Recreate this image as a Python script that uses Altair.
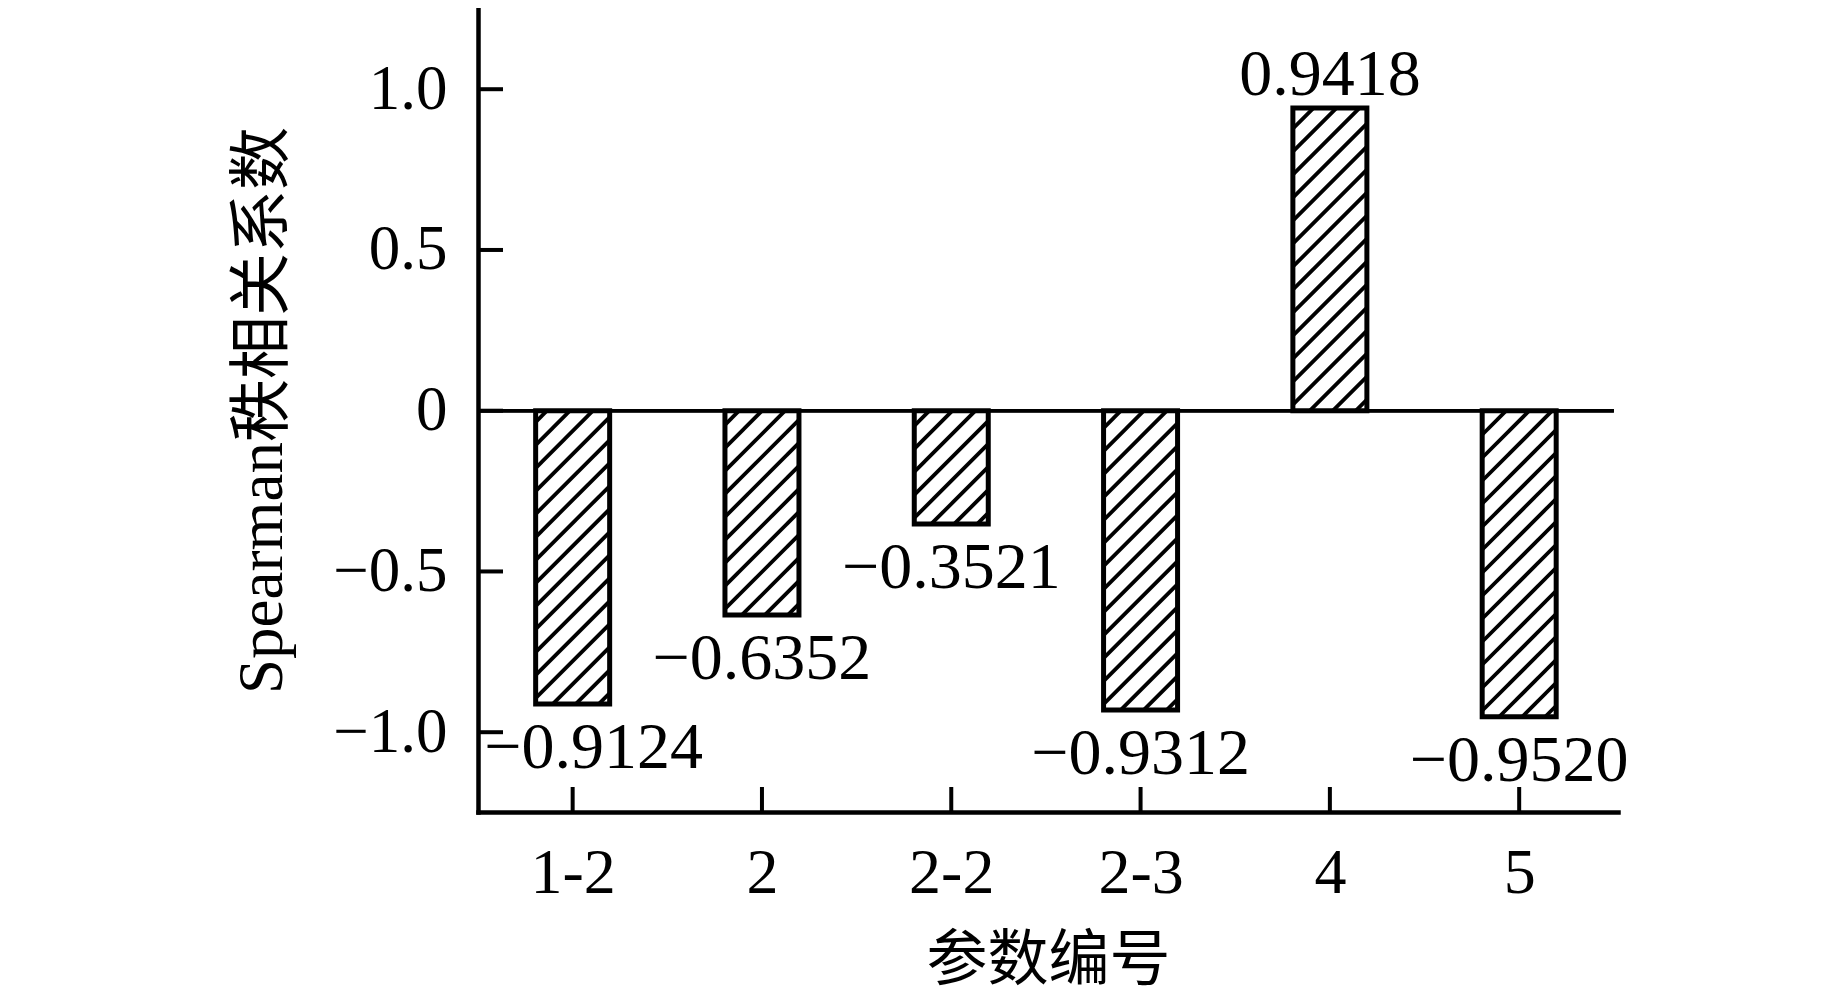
import altair as alt
import pandas as pd

# ---- data ----
categories = ["1-2", "2", "2-2", "2-3", "4", "5"]
values = [-0.9124, -0.6352, -0.3521, -0.9312, 0.9418, -0.9520]
y_ticks = [-1.0, -0.5, 0.0, 0.5, 1.0]

df = pd.DataFrame({"idx": list(range(len(categories))), "cat": categories, "value": values})
yt = pd.DataFrame({"v": y_ticks})

# ---- layout constants ----
W, H = 1140, 804
XMIN, XMAX = -0.5, 5.522
YMIN, YMAX = -1.2482, 1.2526
PXX = W / (XMAX - XMIN)
PXY = H / (YMAX - YMIN)
BAR_PX = 74
HW = BAR_PX / 2 / PXX
HATCH = 23  # vertical spacing of hatch lines, px

SERIF = "Liberation Serif, Times New Roman, Noto Sans CJK SC"

xscale = alt.Scale(domain=[XMIN, XMAX], nice=False, zero=False)
yscale = alt.Scale(domain=[YMIN, YMAX], nice=False, zero=False)

label_arr = "[" + ",".join("'%s'" % c for c in categories) + "]"

xaxis = alt.Axis(
    values=list(range(len(categories))),
    labelExpr=f"{label_arr}[datum.value]",
    ticks=False, tickSize=0, grid=False,
    domainColor="black", domainWidth=4.5, domainCap="square",
    labelFont=SERIF, labelFontSize=64, labelColor="black", labelPadding=29,
    title="参数编号", titleFont=SERIF, titleFontSize=61, titleFontWeight="normal",
    titleColor="black", titlePadding=26,
)
yaxis = alt.Axis(
    values=y_ticks,
    labelExpr="datum.value == 0 ? '0' : format(datum.value, '.1f')",
    ticks=False, tickSize=0, grid=False,
    domainColor="black", domainWidth=4.5, domainCap="square",
    labelFont=SERIF, labelFontSize=63, labelColor="black", labelPadding=31,
    title="Spearman秩相关系数", titleFont=SERIF, titleFontSize=63, titleFontWeight="normal",
    titleColor="black", titlePadding=38,
)

def X(field):
    return alt.X(field, scale=xscale, axis=xaxis, title="参数编号")

def Y(field):
    return alt.Y(field, scale=yscale, axis=yaxis, title="Spearman秩相关系数")

base = alt.Chart(df).transform_calculate(
    x0=f"datum.idx - {HW}", x1=f"datum.idx + {HW}"
)

bar_fill = base.mark_rect(fill="white", strokeWidth=0).encode(
    x=X("x0:Q"), x2="x1:Q", y=Y("value:Q"), y2=alt.datum(0),
)

hatch = alt.Chart(df).transform_calculate(
    k="sequence(-5, 40)"
).transform_flatten(["k"]).transform_calculate(
    h=f"abs(datum.value) * {PXY}",
    c=f"datum.k * {HATCH} + 6",
).transform_calculate(
    u0="max(0, -datum.c)",
    u1=f"min({BAR_PX}, datum.h - datum.c)",
).transform_filter("datum.u1 - datum.u0 > 1").transform_calculate(
    xa=f"datum.idx - {HW} + datum.u0 / {PXX}",
    xb=f"datum.idx - {HW} + datum.u1 / {PXX}",
    ya=f"min(0, datum.value) + (datum.u0 + datum.c) / {PXY}",
    yb=f"min(0, datum.value) + (datum.u1 + datum.c) / {PXY}",
).mark_rule(color="black", strokeWidth=3.8, strokeCap="butt").encode(
    x=X("xa:Q"), x2="xb:Q", y=Y("ya:Q"), y2="yb:Q",
)

bar_outline = base.mark_rect(fill="white", fillOpacity=0, stroke="black", strokeWidth=5).encode(
    x=X("x0:Q"), x2="x1:Q", y=Y("value:Q"), y2=alt.datum(0),
)

zero_line = alt.Chart(df).mark_rule(color="black", strokeWidth=3).encode(
    x=alt.datum(-0.5, scale=xscale, axis=xaxis, title="参数编号"),
    x2=alt.datum(5.5),
    y=alt.datum(0, scale=yscale, axis=yaxis, title="Spearman秩相关系数"),
)

ytick_marks = alt.Chart(yt).mark_rule(color="black", strokeWidth=4).encode(
    y=Y("v:Q"),
    x=alt.value(0),
    x2=alt.value(25),
)

xtick_marks = alt.Chart(df).mark_rule(color="black", strokeWidth=4).encode(
    x=X("idx:Q"),
    y=alt.value(H),
    y2=alt.value(H - 25),
)

txt = dict(font=SERIF, fontSize=66, color="black", baseline="alphabetic", align="center")

neg_labels = alt.Chart(df).transform_filter("datum.value < 0 && datum.idx > 0").mark_text(dy=64, **txt).encode(
    x=X("idx:Q"), y=Y("value:Q"), text=alt.Text("value:Q", format=".4f"),
)
first_label = alt.Chart(df).transform_filter("datum.value < 0 && datum.idx == 0").mark_text(dy=64, dx=21, **txt).encode(
    x=X("idx:Q"), y=Y("value:Q"), text=alt.Text("value:Q", format=".4f"),
)
pos_labels = alt.Chart(df).transform_filter("datum.value > 0").mark_text(dy=-13, **txt).encode(
    x=X("idx:Q"), y=Y("value:Q"), text=alt.Text("value:Q", format=".4f"),
)

chart = alt.layer(
    bar_fill, hatch, bar_outline, zero_line, ytick_marks, xtick_marks,
    neg_labels, first_label, pos_labels,
).properties(
    width=W, height=H,
    autosize=alt.AutoSizeParams(type="none"),
    padding={"left": 470, "top": 0, "right": 20, "bottom": 185},
    background="white",
).configure_view(stroke=None)

chart.save("out.html", embed_options={"renderer": "svg", "actions": False})
